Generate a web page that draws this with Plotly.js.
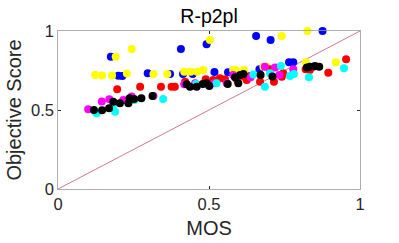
<!DOCTYPE html>
<html><head><meta charset="utf-8">
<script src="https://cdn.plot.ly/plotly-3.0.1.min.js"></script>
<style>html,body{margin:0;padding:0;background:#fff}#c{width:399px;height:243px}</style>
</head><body><div id="c"></div>
<script>
const blueX = [0.175,0.200,0.213,0.297,0.371,0.414,0.446,0.407,0.492,0.518,0.563,0.656,0.704,0.876,0.667,0.765,0.779,0.845];
const blueY = [0.837,0.717,0.715,0.732,0.728,0.728,0.728,0.886,0.916,0.741,0.739,0.968,0.943,1.000,0.758,0.802,0.802,0.774];
const yellowX = [0.123,0.146,0.179,0.228,0.191,0.244,0.316,0.362,0.418,0.439,0.461,0.481,0.503,0.580,0.589,0.616,0.680,0.691,0.741,0.826,0.821,0.920];
const yellowY = [0.722,0.718,0.718,0.731,0.837,0.886,0.728,0.728,0.742,0.742,0.742,0.753,0.943,0.753,0.753,0.753,0.774,0.774,0.968,1.000,0.802,0.802];
const redX = [0.196,0.272,0.341,0.376,0.387,0.421,0.489,0.514,0.536,0.553,0.592,0.617,0.625,0.636,0.669,0.702,0.715,0.741,0.746,0.820,0.834,0.895,0.954];
const redY = [0.631,0.647,0.647,0.647,0.647,0.679,0.694,0.690,0.701,0.694,0.694,0.711,0.690,0.715,0.679,0.758,0.679,0.711,0.732,0.758,0.753,0.736,0.821];
const magentaX = [0.100,0.145,0.170,0.216,0.244,0.316,0.418,0.454,0.457,0.517,0.559,0.580,0.638,0.685,0.719,0.733,0.779];
const magentaY = [0.504,0.554,0.568,0.563,0.585,0.589,0.663,0.669,0.652,0.669,0.669,0.722,0.707,0.774,0.769,0.722,0.758];
const cyanX = [0.123,0.128,0.181,0.189,0.252,0.348,0.457,0.484,0.525,0.647,0.685,0.702,0.738,0.768,0.781,0.831,0.947];
const cyanY = [0.491,0.479,0.517,0.489,0.563,0.570,0.665,0.665,0.669,0.725,0.647,0.732,0.778,0.715,0.728,0.707,0.764];
const blackX = [0.119,0.146,0.169,0.183,0.205,0.233,0.237,0.252,0.276,0.313,0.426,0.437,0.459,0.479,0.492,0.501,0.562,0.586,0.597,0.603,0.614,0.671,0.710,0.824,0.834,0.851,0.865];
const blackY = [0.500,0.498,0.511,0.553,0.542,0.542,0.574,0.570,0.574,0.589,0.663,0.647,0.647,0.665,0.669,0.652,0.665,0.707,0.669,0.722,0.728,0.722,0.712,0.769,0.774,0.778,0.774];
const diagX = [0, 1];
const diagY = [0, 1];
const tickVals = [0, 0.5, 1];
const tickText = ['0', '0.5', '1'];

function pts(x, y, color) {
  return {x: x, y: y, type: 'scatter', mode: 'markers', cliponaxis: false,
    marker: {color: color, size: 8, line: {width: 0}}, hoverinfo: 'none'};
}
const data = [
  {x: diagX, y: diagY, type: 'scatter', mode: 'lines', line: {color: '#b8405e', width: 0.7}, hoverinfo: 'none'},
  pts(blueX, blueY, '#0000ff'),
  pts(yellowX, yellowY, '#ffff00'),
  pts(redX, redY, '#ff0000'),
  pts(magentaX, magentaY, '#ff00ff'),
  pts(cyanX, cyanY, '#00ffff'),
  pts(blackX, blackY, '#000000')
];
const axisCommon = {
  range: [0, 1], tickvals: tickVals, ticktext: tickText, ticks: 'inside', ticklen: 3,
  tickcolor: '#262626', showline: true, linecolor: '#9a9a9a', linewidth: 0.8, mirror: 'ticks',
  showgrid: false, zeroline: false, tickfont: {size: 16.5, color: '#262626'}
};
const layout = {
  width: 399, height: 243, showlegend: false,
  paper_bgcolor: '#fff', plot_bgcolor: '#fff',
  font: {family: 'Liberation Sans, Arial, sans-serif', color: '#262626'},
  margin: {l: 58, r: 39, t: 31, b: 54},
  title: {text: 'R-p2pl', x: 0.524, xanchor: 'center', y: 0.935, yanchor: 'middle', font: {size: 19.5, color: '#000'}},
  xaxis: Object.assign({}, axisCommon, {title: {text: 'MOS', font: {size: 20, color: '#262626'}, standoff: 9}}),
  yaxis: Object.assign({}, axisCommon, {title: {text: 'Objective Score', font: {size: 20, color: '#262626'}, standoff: 3}})
};
Plotly.newPlot('c', data, layout, {staticPlot: true, displayModeBar: false});
</script></body></html>
